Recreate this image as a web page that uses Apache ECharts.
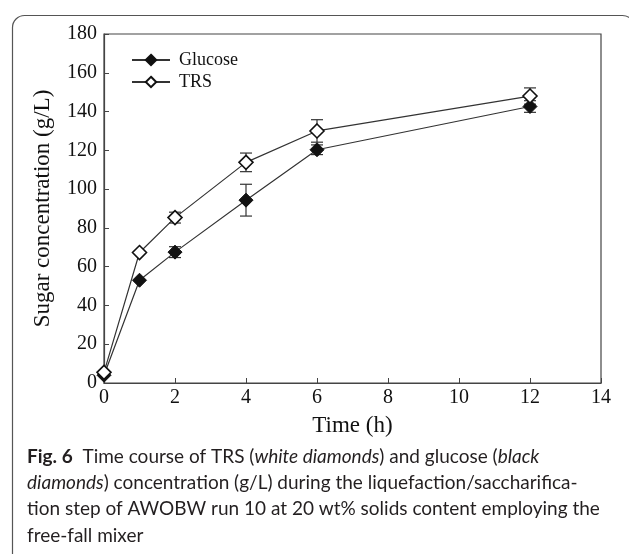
<!DOCTYPE html>
<html>
<head>
<meta charset="utf-8">
<script src="https://cdn.jsdelivr.net/npm/echarts@6/dist/echarts.min.js"></script>
<style>
  html, body { margin: 0; padding: 0; background: #fff; }
  #chart { width: 629px; height: 554px; }
</style>
</head>
<body>
<div id="chart"></div>
<script>
// time points (h)
const times = [0, 1, 2, 4, 6, 12];
// glucose concentration (g/L) and its error
const glucose = [4, 53, 67.5, 94.3, 120.3, 142.6];
const glucoseErr = [0, 0, 2.8, 8.2, 2.5, 3];
// total reducing sugars (g/L) and its error
const trs = [5.5, 67.3, 85.3, 113.8, 130, 148];
const trsErr = [0, 0, 2.8, 4.8, 5.8, 4.2];
const xTicks = [0, 2, 4, 6, 8, 10, 12, 14];
const yTicks = [0, 20, 40, 60, 80, 100, 120, 140, 160, 180];

const captionLines = [
    '{b|Fig. 6}  Time course of TRS ({i|white diamonds}) and glucose ({i|black}',
    '{i|diamonds}) concentration (g/L) during the liquefaction/saccharifica-',
    'tion step of AWOBW run 10 at 20 wt% solids content employing the',
    'free-fall mixer'
];

const serif = '"Liberation Serif", "DejaVu Serif", serif';
const sans = 'Lato, "Noto Sans", sans-serif';

const chart = echarts.init(document.getElementById('chart'));

function errBars(vals, errs) {
    return times.map((t, i) => [t, vals[i] - errs[i], vals[i] + errs[i]]).filter((d, i) => errs[i] > 0);
}

function errRender(params, api) {
    const x = api.value(0);
    const lo = api.coord([x, api.value(1)]);
    const hi = api.coord([x, api.value(2)]);
    const w = 6;
    const style = { stroke: '#333', lineWidth: 1.2 };
    return {
        type: 'group',
        children: [
            { type: 'line', shape: { x1: lo[0], y1: lo[1], x2: hi[0], y2: hi[1] }, style: style },
            { type: 'line', shape: { x1: lo[0] - w, y1: lo[1], x2: lo[0] + w, y2: lo[1] }, style: style },
            { type: 'line', shape: { x1: hi[0] - w, y1: hi[1], x2: hi[0] + w, y2: hi[1] }, style: style }
        ]
    };
}

const axisLine = { show: true, lineStyle: { color: '#444', width: 1.2 } };

const option = {
    animation: false,
    backgroundColor: '#fff',
    grid: { left: 104, top: 34, right: 28, bottom: 171, show: true, borderColor: '#444', borderWidth: 1.2 },
    legend: {
        left: 126, top: 46, orient: 'vertical', itemGap: 4,
        itemWidth: 38, itemHeight: 13,
        textStyle: { fontFamily: serif, fontSize: 18, color: '#111', padding: [0, 0, 0, 4] },
        data: ['Glucose', 'TRS']
    },
    xAxis: {
        type: 'value', min: 0, max: 14, interval: 2,
        name: 'Time (h)', nameLocation: 'middle', nameGap: 31,
        nameTextStyle: { fontFamily: serif, fontSize: 23, color: '#111' },
        axisLine: axisLine,
        axisTick: { show: true, inside: true, length: 5, lineStyle: { color: '#444' } },
        axisLabel: { fontFamily: serif, fontSize: 20, color: '#111', margin: 5,
            formatter: v => xTicks.includes(v) ? String(v) : '' },
        splitLine: { show: false }
    },
    yAxis: {
        type: 'value', min: 0, max: 180, interval: 20,
        name: 'Sugar concentration (g/L)', nameLocation: 'middle', nameGap: 50,
        nameTextStyle: { fontFamily: serif, fontSize: 23, color: '#111' },
        axisLine: axisLine,
        axisTick: { show: true, inside: true, length: 5, lineStyle: { color: '#444' } },
        axisLabel: { fontFamily: serif, fontSize: 20, color: '#111', margin: 7,
            formatter: v => yTicks.includes(v) ? String(v) : '' },
        splitLine: { show: false }
    },
    series: [
        {
            name: 'Glucose', type: 'line', data: times.map((t, i) => [t, glucose[i]]),
            symbol: 'diamond', symbolSize: 14,
            lineStyle: { color: '#333', width: 1.2 },
            itemStyle: { color: '#111', borderColor: '#111', borderWidth: 1 },
            z: 3
        },
        {
            name: 'TRS', type: 'line', data: times.map((t, i) => [t, trs[i]]),
            symbol: 'diamond', symbolSize: 14,
            lineStyle: { color: '#333', width: 1.2 },
            itemStyle: { color: '#fff', borderColor: '#111', borderWidth: 1.6 },
            z: 4
        },
        { type: 'custom', data: errBars(glucose, glucoseErr), renderItem: errRender, z: 2, silent: true },
        { type: 'custom', data: errBars(trs, trsErr), renderItem: errRender, z: 2, silent: true }
    ],
    graphic: [
        {
            type: 'rect', left: 10, top: 13, z: -1, silent: true,
            shape: { width: 622, height: 620, r: 12 },
            style: { fill: 'none', stroke: '#555', lineWidth: 1.2 }
        }
    ].concat(captionLines.map((txt, i) => ({
        type: 'text', left: 27, top: 447 + i * 26.3, silent: true,
        style: {
            text: txt, fontFamily: sans, fontSize: 19, fill: '#231f20',
            rich: {
                b: { fontFamily: sans, fontSize: 19, fontWeight: 'bold', fill: '#231f20' },
                i: { fontFamily: sans, fontSize: 19, fontStyle: 'italic', fill: '#231f20' }
            }
        }
    })))
};

chart.setOption(option);
window.addEventListener('resize', () => chart.resize());
</script>
</body>
</html>
